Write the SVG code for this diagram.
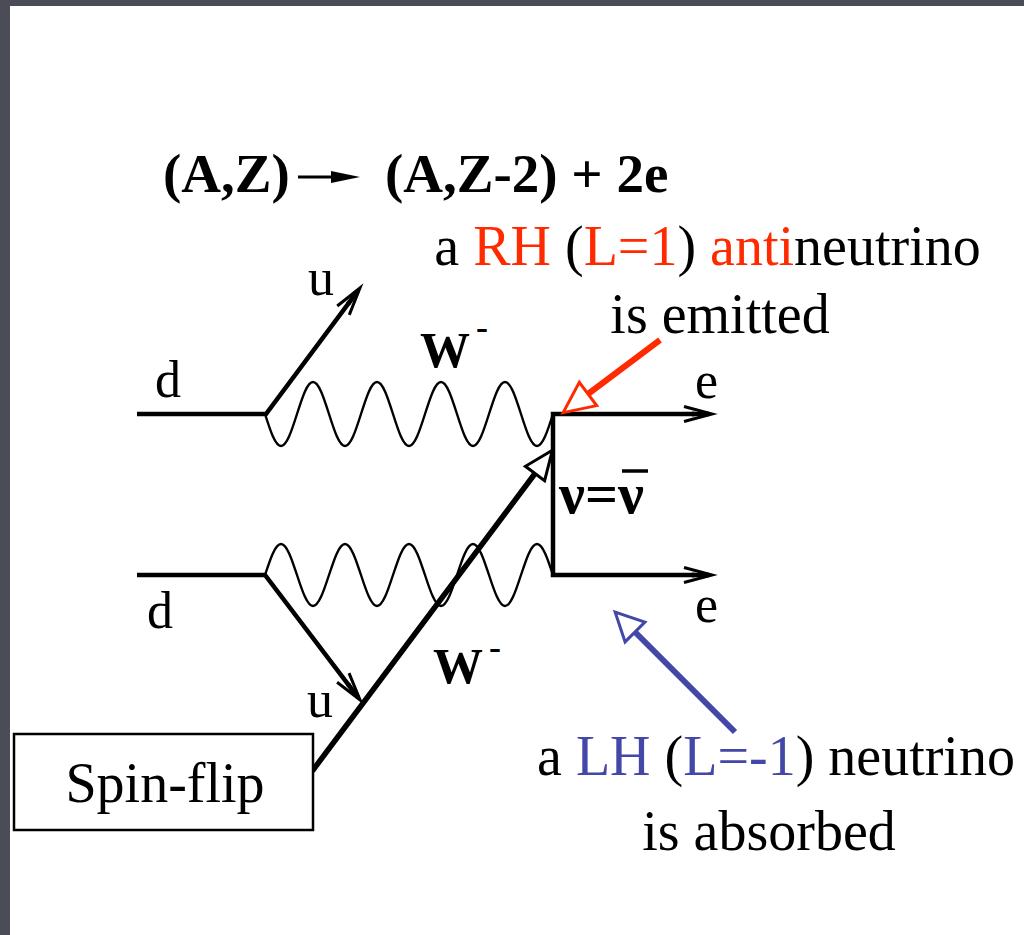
<svg xmlns="http://www.w3.org/2000/svg" width="1024" height="935" viewBox="0 0 1024 935">
<style>
text{font-family:"Liberation Serif","Times New Roman",serif;fill:#000}
.lbl{font-size:52px}
.big{font-size:56px}
.ttl{font-size:55px;font-weight:bold}
.nu{font-size:58px;font-weight:bold}
.wb{font-size:50px;font-weight:bold}
.red{fill:#ff2a00}
.blue{fill:#4347a8}
.thick{fill:none;stroke:#000;stroke-width:4.5;stroke-linejoin:miter}
.wave{fill:none;stroke:#000;stroke-width:2.4}
</style>
<defs>
<marker id="vhead" markerUnits="userSpaceOnUse" viewBox="-32 -12 36 24" markerWidth="36" markerHeight="24" refX="-3" refY="0" orient="auto-start-reverse" overflow="visible">
<path d="M-28,-7.5 L0,0 L-28,7.5" fill="none" stroke="#000" stroke-width="3"/>
<path d="M-20,-2.5 L0,0 L-20,2.5 Z" fill="#000"/>
</marker>
<marker id="triRed" markerUnits="userSpaceOnUse" viewBox="-36 -18 40 36" markerWidth="40" markerHeight="36" refX="-31" refY="0" orient="auto" overflow="visible">
<path d="M0,0 L-31,-14.5 L-31,14.5 Z" fill="#fff" stroke="#ff2a00" stroke-width="3"/>
</marker>
<marker id="triBlue" markerUnits="userSpaceOnUse" viewBox="-36 -18 40 36" markerWidth="40" markerHeight="36" refX="-28" refY="0" orient="auto" overflow="visible">
<path d="M0,0 L-28,-14 L-28,14 Z" fill="#fff" stroke="#4347a8" stroke-width="3"/>
</marker>
<marker id="triBlack" markerUnits="userSpaceOnUse" viewBox="-36 -18 40 36" markerWidth="40" markerHeight="36" refX="-29" refY="0" orient="auto" overflow="visible">
<path d="M0,0 L-29,-12 L-29,12 Z" fill="#fff" stroke="#000" stroke-width="3"/>
</marker>
</defs>

<rect x="0" y="0" width="1024" height="935" fill="#4a4c57"/>
<rect x="10" y="6" width="1014" height="929" fill="#fff"/>

<g id="title">
<text class="ttl" x="163" y="192">(A,Z)</text>
<line x1="298" y1="177" x2="336" y2="177" stroke="#000" stroke-width="3"/>
<polygon points="331,171 360,177 331,183" fill="#000"/>
<text class="ttl" x="385" y="192">(A,Z-2) + 2e</text>
</g>

<g id="connectors">
<path id="w-upper" class="wave" d="M265,414 c5.35,16.8 10.24,32 16,32 s10.65,-15.2 16,-32 s10.24,-32 16,-32 s10.65,15.2 16,32 s10.24,32 16,32 s10.65,-15.2 16,-32 s10.24,-32 16,-32 s10.65,15.2 16,32 s10.24,32 16,32 s10.65,-15.2 16,-32 s10.24,-32 16,-32 s10.65,15.2 16,32 s10.24,32 16,32 s10.65,-15.2 16,-32 s10.24,-32 16,-32 s10.65,15.2 16,32 s10.24,32 16,32 s10.65,-15.2 16,-32"/>
<path id="w-lower" class="wave" d="M265,575 c5.35,-16.3 10.24,-31 16,-31 s10.65,14.7 16,31 s10.24,31 16,31 s10.65,-14.7 16,-31 s10.24,-31 16,-31 s10.65,14.7 16,31 s10.24,31 16,31 s10.65,-14.7 16,-31 s10.24,-31 16,-31 s10.65,14.7 16,31 s10.24,31 16,31 s10.65,-14.7 16,-31 s10.24,-31 16,-31 s10.65,14.7 16,31 s10.24,31 16,31 s10.65,-14.7 16,-31 s10.24,-31 16,-31 s10.65,14.7 16,31"/>
<path id="q-upper" class="thick" d="M137,414 L266,414 L358.2,290.4" marker-end="url(#vhead)"/>
<path id="q-lower" class="thick" d="M137,575 L265,575 L358.2,697.6" marker-end="url(#vhead)"/>
<line id="spinflip-line" x1="313" y1="770" x2="535" y2="473.5" stroke="#000" stroke-width="5.5" stroke-linecap="round" marker-end="url(#triBlack)"/>
<path id="electrons" class="thick" d="M709,414 L553,414 L553,575 L709,575" marker-start="url(#vhead)" marker-end="url(#vhead)"/>
<line id="red-arrow" x1="660" y1="340" x2="588" y2="394" stroke="#ff2a00" stroke-width="6" marker-end="url(#triRed)"/>
<line id="blue-arrow" x1="735" y1="732" x2="635" y2="632" stroke="#4347a8" stroke-width="6" marker-end="url(#triBlue)"/>
</g>

<g id="labels">
<text class="lbl" x="155" y="397">d</text>
<text class="lbl" x="308" y="295">u</text>
<text class="wb" x="420" y="367">W<tspan dx="6" dy="-28" font-size="36">-</tspan></text>
<text class="lbl" x="147" y="628">d</text>
<text class="lbl" x="307" y="717">u</text>
<text class="wb" x="433" y="683">W<tspan dx="6" dy="-24" font-size="36">-</tspan></text>
<text class="lbl" x="695" y="398">e</text>
<text class="lbl" x="695" y="622">e</text>
<text class="nu" x="559" y="513">ν=ν</text>
<line x1="622" y1="471" x2="648" y2="471" stroke="#000" stroke-width="3.5"/>
</g>

<g id="note-emitted">
<text class="big" x="707.5" y="265" text-anchor="middle">a <tspan class="red">RH</tspan> (<tspan class="red">L=1</tspan>) <tspan class="red">anti</tspan>neutrino</text>
<text class="big" x="720" y="333" text-anchor="middle">is emitted</text>
</g>

<g id="note-absorbed">
<text class="big" x="776" y="775" text-anchor="middle">a <tspan class="blue">LH</tspan> (<tspan class="blue">L=-1</tspan>) neutrino</text>
<text class="big" x="769" y="850" text-anchor="middle">is absorbed</text>
</g>

<g id="spin-flip">
<rect x="14" y="734" width="299" height="96" fill="#fff" stroke="#000" stroke-width="2.5"/>
<text class="big" x="165" y="802" text-anchor="middle" font-size="55">Spin-flip</text>
</g>
</svg>
